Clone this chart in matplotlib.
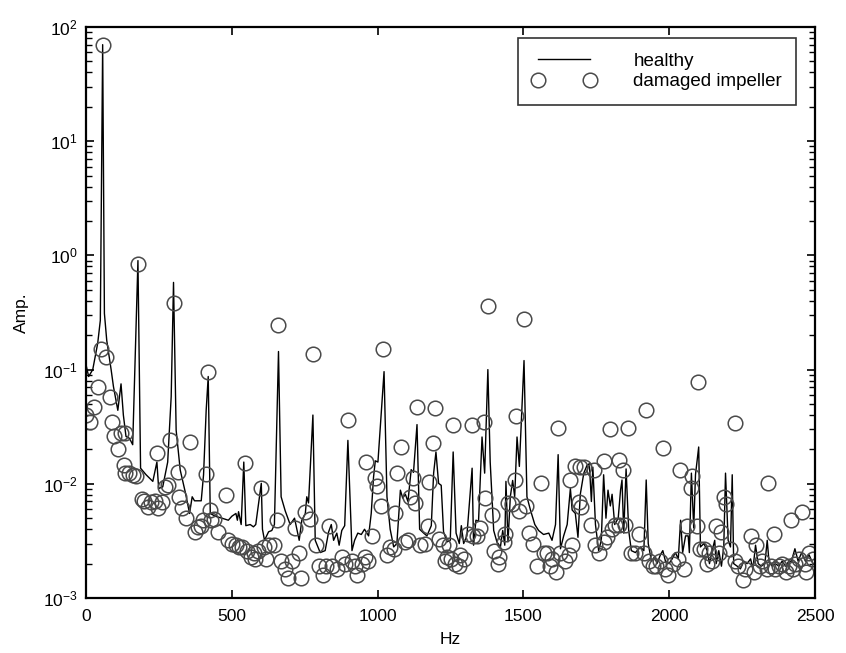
import numpy as np
import matplotlib
matplotlib.use("Agg")
import matplotlib.pyplot as plt
from matplotlib.ticker import LogLocator, NullFormatter, MultipleLocator

plt.rcParams['font.family'] = ['Liberation Sans', 'DejaVu Sans']
plt.rcParams['mathtext.fontset'] = 'custom'
plt.rcParams['mathtext.rm'] = 'Liberation Sans'

# healthy spectrum (line)
healthy_hz = [0, 9, 23, 40, 49, 57, 63, 71, 86, 94, 109, 120, 128, 137, 149, 160, 178, 187,
              206, 229, 243, 249, 263, 280, 292, 300, 309, 323, 341, 355, 364, 372, 395, 403,
              412, 419, 426, 443, 466, 488, 500, 514, 519, 523, 532, 541, 548, 563, 574, 582,
              601, 605, 612, 626, 637, 646, 660, 669, 683, 700, 715, 723, 731, 740, 752, 757,
              763, 778, 786, 803, 820, 832, 841, 849, 860, 868, 877, 887, 898, 912, 921, 932,
              944, 955, 963, 969, 978, 986, 992, 1001, 1022, 1032, 1043, 1055, 1066, 1078,
              1086, 1095, 1104, 1115, 1123, 1135, 1144, 1158, 1169, 1184, 1192, 1200, 1209,
              1218, 1226, 1238, 1249, 1259, 1269, 1280, 1287, 1295, 1306, 1324, 1329, 1337,
              1346, 1358, 1367, 1378, 1386, 1398, 1409, 1421, 1429, 1436, 1440, 1447, 1455,
              1463, 1470, 1478, 1486, 1502, 1512, 1524, 1539, 1552, 1569, 1587, 1598, 1610,
              1619, 1627, 1638, 1650, 1661, 1667, 1678, 1687, 1695, 1707, 1718, 1726, 1733,
              1738, 1747, 1758, 1767, 1775, 1783, 1790, 1798, 1804, 1813, 1825, 1833, 1838,
              1844, 1852, 1861, 1870, 1884, 1901, 1913, 1921, 1928, 1939, 1950, 1958, 1970,
              1978, 1987, 1999, 2010, 2021, 2031, 2039, 2046, 2056, 2065, 2069, 2076, 2084,
              2090, 2101, 2107, 2119, 2130, 2138, 2147, 2156, 2161, 2170, 2179, 2187, 2193,
              2202, 2210, 2216, 2221, 2233, 2244, 2256, 2267, 2279, 2287, 2296, 2305, 2316,
              2328, 2336, 2342, 2353, 2364, 2376, 2387, 2399, 2410, 2419, 2431, 2442, 2454,
              2467, 2479, 2493]
healthy_amp = [0.11, 0.087, 0.10, 0.17, 0.27, 70, 0.31, 0.18, 0.10, 0.071, 0.044, 0.075, 0.040,
               0.026, 0.025, 0.022, 0.9, 0.0137, 0.012, 0.0105, 0.0155, 0.0091, 0.0094, 0.0155,
               0.058, 0.58, 0.0295, 0.0132, 0.0083, 0.0055, 0.0077, 0.0071, 0.0071, 0.012,
               0.044, 0.087, 0.0055, 0.0052, 0.0050, 0.0048, 0.0052, 0.0055, 0.0048, 0.0057,
               0.0044, 0.0155, 0.0043, 0.0044, 0.0042, 0.0044, 0.0101, 0.0040, 0.0032, 0.0038,
               0.0039, 0.0044, 0.144, 0.0077, 0.0058, 0.0044, 0.0050, 0.0040, 0.0032, 0.0048,
               0.0055, 0.0077, 0.0068, 0.040, 0.0032, 0.0025, 0.0026, 0.0038, 0.0044, 0.0032,
               0.0037, 0.0029, 0.0039, 0.0043, 0.024, 0.0026, 0.0032, 0.0037, 0.0036, 0.0040,
               0.0037, 0.0035, 0.0055, 0.0115, 0.0159, 0.0155, 0.096, 0.0077, 0.0040, 0.0028,
               0.0030, 0.0088, 0.0075, 0.0081, 0.0070, 0.0133, 0.0126, 0.033, 0.0040, 0.0037,
               0.0035, 0.0043, 0.0124, 0.019, 0.0101, 0.0097, 0.0038, 0.0031, 0.0032, 0.019,
               0.0037, 0.0030, 0.0043, 0.0030, 0.0035, 0.0137, 0.0029, 0.0048, 0.0047, 0.0257,
               0.0124, 0.10, 0.0155, 0.0039, 0.0031, 0.0028, 0.0039, 0.0029, 0.0105, 0.0031,
               0.0077, 0.0107, 0.0077, 0.0257, 0.0142, 0.12, 0.0077, 0.0059, 0.0044, 0.0039,
               0.0036, 0.0037, 0.0032, 0.0044, 0.018, 0.0027, 0.0035, 0.0044, 0.0091, 0.0059,
               0.0055, 0.0034, 0.0081, 0.0124, 0.0145, 0.015, 0.0070, 0.014, 0.0044, 0.0026,
               0.0032, 0.012, 0.0050, 0.0088, 0.0064, 0.0081, 0.0044, 0.0050, 0.0088, 0.0108,
               0.0037, 0.0135, 0.0039, 0.0026, 0.0025, 0.0028, 0.0026, 0.0108, 0.0030, 0.0021,
               0.0023, 0.0020, 0.0024, 0.0026, 0.0021, 0.0020, 0.0022, 0.0025, 0.0022, 0.0048,
               0.0025, 0.0035, 0.0035, 0.0025, 0.0124, 0.0041, 0.0120, 0.021, 0.0028, 0.0030,
               0.0026, 0.0020, 0.0026, 0.0032, 0.0020, 0.0026, 0.0019, 0.0028, 0.0124, 0.0032,
               0.0028, 0.0120, 0.0020, 0.0019, 0.0018, 0.0021, 0.0020, 0.0022, 0.0018, 0.0029,
               0.0020, 0.0019, 0.0020, 0.0032, 0.0021, 0.0019, 0.0020, 0.0019, 0.0021, 0.0019,
               0.0021, 0.0021, 0.0027, 0.0021, 0.0025, 0.0021, 0.0024, 0.0020]

# damaged impeller spectrum (circles)
damaged_hz = [0, 14, 27, 40, 50, 58, 69, 82, 89, 97, 109, 120, 132, 129, 135, 149, 160, 172,
              178, 192, 200, 212, 223, 235, 243, 246, 261, 272, 280, 288, 301, 315, 318, 330,
              343, 357, 372, 383, 395, 400, 410, 418, 425, 429, 440, 454, 480, 487, 500, 514,
              525, 534, 545, 551, 564, 576, 580, 591, 600, 612, 618, 626, 643, 654, 660, 669,
              681, 692, 708, 717, 729, 738, 752, 769, 778, 790, 800, 811, 823, 832, 843, 860,
              877, 889, 900, 912, 921, 929, 946, 955, 960, 967, 980, 990, 998, 1012, 1020,
              1032, 1043, 1055, 1060, 1066, 1081, 1095, 1104, 1112, 1120, 1129, 1135, 1146,
              1161, 1173, 1175, 1189, 1198, 1211, 1223, 1230, 1238, 1246, 1253, 1257, 1266,
              1278, 1283, 1295, 1310, 1324, 1326, 1341, 1352, 1364, 1369, 1378, 1392, 1398,
              1413, 1417, 1432, 1438, 1447, 1461, 1472, 1476, 1486, 1501, 1510, 1520, 1532,
              1547, 1561, 1569, 1581, 1592, 1598, 1612, 1619, 1627, 1642, 1655, 1661, 1667,
              1678, 1692, 1695, 1699, 1707, 1730, 1741, 1747, 1758, 1775, 1777, 1787, 1798,
              1804, 1815, 1827, 1829, 1841, 1850, 1859, 1870, 1884, 1898, 1913, 1922, 1930,
              1944, 1955, 1970, 1979, 1987, 1996, 2012, 2031, 2036, 2050, 2061, 2073, 2078,
              2096, 2099, 2107, 2119, 2130, 2138, 2147, 2159, 2170, 2179, 2187, 2193, 2210,
              2225, 2227, 2236, 2252, 2260, 2279, 2290, 2296, 2310, 2319, 2336, 2339, 2350,
              2359, 2364, 2375, 2387, 2399, 2410, 2416, 2425, 2433, 2444, 2456, 2465, 2470,
              2481, 2492]
damaged_amp = [0.040, 0.035, 0.047, 0.070, 0.15, 70, 0.13, 0.057, 0.035, 0.026, 0.020, 0.028,
               0.028, 0.0146, 0.0124, 0.0124, 0.012, 0.0117, 0.84, 0.0073, 0.0071, 0.0063,
               0.0069, 0.0071, 0.0185, 0.0062, 0.0069, 0.0093, 0.0098, 0.024, 0.385, 0.0128,
               0.0077, 0.0062, 0.0050, 0.023, 0.0038, 0.0042, 0.0043, 0.0048, 0.0122, 0.096,
               0.0059, 0.0048, 0.0049, 0.0038, 0.0079, 0.0032, 0.0030, 0.0029, 0.0028, 0.0028,
               0.0153, 0.0026, 0.0023, 0.0025, 0.0022, 0.0026, 0.0091, 0.0028, 0.0022, 0.0029,
               0.0029, 0.0048, 0.245, 0.0021, 0.0018, 0.0015, 0.0021, 0.0041, 0.0025, 0.0015,
               0.0057, 0.0049, 0.137, 0.0029, 0.0019, 0.0016, 0.0019, 0.0043, 0.0019, 0.0018,
               0.0023, 0.0020, 0.036, 0.0021, 0.0019, 0.0016, 0.0020, 0.0023, 0.0155, 0.0021,
               0.0035, 0.0113, 0.0096, 0.0064, 0.15, 0.0024, 0.0028, 0.0027, 0.0055, 0.0124,
               0.021, 0.0031, 0.0032, 0.0077, 0.0113, 0.0068, 0.047, 0.0029, 0.0030, 0.0043,
               0.0103, 0.0226, 0.046, 0.0033, 0.0029, 0.0021, 0.0023, 0.0029, 0.0022, 0.033,
               0.0020, 0.0019, 0.0024, 0.0022, 0.0036, 0.033, 0.0035, 0.0035, 0.0041, 0.035,
               0.0075, 0.36, 0.0053, 0.0026, 0.0020, 0.0023, 0.0031, 0.0036, 0.0068, 0.0066,
               0.0107, 0.039, 0.0058, 0.28, 0.0064, 0.0037, 0.0030, 0.0019, 0.0102, 0.0025,
               0.0025, 0.0019, 0.0022, 0.0017, 0.031, 0.0025, 0.0021, 0.0024, 0.0108, 0.0029,
               0.0142, 0.0069, 0.014, 0.0063, 0.014, 0.0044, 0.0132, 0.0029, 0.0025, 0.0157,
               0.0031, 0.0034, 0.030, 0.0040, 0.0044, 0.0044, 0.016, 0.0131, 0.0044, 0.031,
               0.0025, 0.0025, 0.0036, 0.0025, 0.044, 0.0021, 0.0019, 0.0019, 0.0021, 0.0204,
               0.0018, 0.0016, 0.0020, 0.0022, 0.0133, 0.0018, 0.0043, 0.0091, 0.0118, 0.0043,
               0.078, 0.0027, 0.0027, 0.0020, 0.0025, 0.0021, 0.0043, 0.0025, 0.0038, 0.0077,
               0.0067, 0.0027, 0.034, 0.0021, 0.0019, 0.00145, 0.0018, 0.0035, 0.0017, 0.0029,
               0.0019, 0.0021, 0.0018, 0.0102, 0.0019, 0.0036, 0.0018, 0.0019, 0.0020, 0.0017,
               0.0019, 0.0048, 0.0018, 0.0020, 0.0022, 0.0057, 0.0020, 0.0017, 0.0025, 0.0022]

fig = plt.figure(figsize=(8.46, 6.53), dpi=100)
ax = fig.add_axes([0.1017, 0.0842, 0.8617, 0.8745])

ax.plot(healthy_hz, healthy_amp, color='black', lw=1.0, label='healthy')
ax.plot(damaged_hz, damaged_amp, ls='none', marker='o', ms=10.5, mfc='none',
        mec='#4a4a4a', mew=1.1, label='damaged impeller')

ax.set_yscale('log')
ax.set_xlim(0, 2500)
ax.set_ylim(1e-3, 1e2)
ax.xaxis.set_major_locator(MultipleLocator(500))
ax.yaxis.set_major_locator(LogLocator(base=10, numticks=10))
ax.yaxis.set_minor_locator(LogLocator(base=10, subs=np.arange(2, 10), numticks=20))
ax.yaxis.set_minor_formatter(NullFormatter())

ax.tick_params(which='both', direction='in', top=True, right=True, labelsize=12.5)
ax.tick_params(which='major', length=6, width=1.2)
ax.tick_params(which='minor', length=4, width=1.0)
ax.tick_params(axis='x', pad=8)
ax.tick_params(axis='y', pad=6)
for s in ax.spines.values():
    s.set_linewidth(1.6)

ax.set_xlabel('Hz', fontsize=12.5, labelpad=6)
ax.set_ylabel('Amp.', fontsize=12.5, labelpad=10)

leg = ax.legend(loc='upper right', bbox_to_anchor=(0.974, 0.98), borderaxespad=0,
                numpoints=2, handlelength=3.4, handletextpad=2.0, fontsize=13.5,
                fancybox=False, frameon=True, borderpad=0.75, labelspacing=0.2)
leg.get_frame().set_edgecolor('black')
leg.get_frame().set_linewidth(1.2)

fig.savefig('out.png', dpi=100)
